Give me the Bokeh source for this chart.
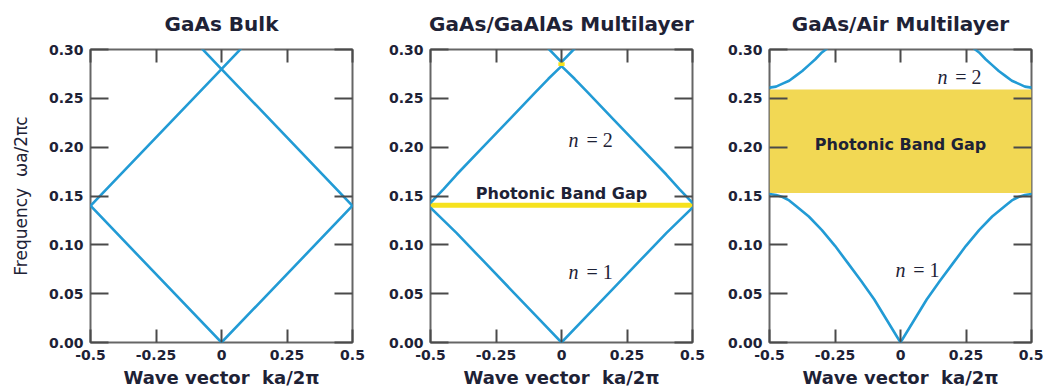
from bokeh.plotting import figure
from bokeh.layouts import row
from bokeh.models import Range1d, FixedTicker, LinearAxis, Label, CustomLabelingPolicy
from bokeh.embed import file_html
from bokeh.resources import INLINE

# ---- axis ticks -------------------------------------------------------------
k_ticks = [-0.5, -0.25, 0.0, 0.25, 0.5]
k_tick_labels = ["-0.5", "-0.25", "0", "0.25", "0.5"]
w_ticks = [0.0, 0.05, 0.10, 0.15, 0.20, 0.25, 0.30]
w_tick_labels = ["0.00", "0.05", "0.10", "0.15", "0.20", "0.25", "0.30"]

# ---- GaAs bulk: folded light line (half zone, k >= 0) ----------------------
bulk_k = [0.0, 0.5]
bulk_band1 = [0.0, 0.14]
bulk_band2 = [0.28, 0.14]
bulk_band3_k = [0.0, 0.1]
bulk_band3 = [0.28, 0.308]

# ---- GaAs/GaAlAs multilayer -------------------------------------------------
ml_band1_k = [0.0, 0.1, 0.2, 0.3, 0.4, 0.45, 0.5]
ml_band1 = [0.0, 0.028, 0.056, 0.084, 0.112, 0.125, 0.138]
ml_band2_k = [0.0, 0.05, 0.1, 0.2, 0.3, 0.4, 0.45, 0.5]
ml_band2 = [0.283, 0.270, 0.256, 0.228, 0.200, 0.172, 0.157, 0.143]
ml_band3_k = [0.0, 0.05, 0.1]
ml_band3 = [0.287, 0.301, 0.315]
ml_gap_bottom = [0.138]
ml_gap_top = [0.143]
ml_gap2_bottom = [0.283]
ml_gap2_top = [0.287]

# ---- GaAs/Air multilayer ----------------------------------------------------
air_band1_k = [0.0, 0.05, 0.1, 0.15, 0.2, 0.25, 0.3, 0.35, 0.4, 0.425, 0.45, 0.475, 0.5]
air_band1 = [0.0, 0.022, 0.044, 0.063, 0.081, 0.099, 0.115, 0.129, 0.140, 0.1455, 0.149, 0.151, 0.152]
air_band2_k = [0.28, 0.3, 0.325, 0.35, 0.375, 0.4, 0.425, 0.45, 0.475, 0.5]
air_band2 = [0.301, 0.297, 0.290, 0.284, 0.278, 0.273, 0.268, 0.265, 0.262, 0.261]
air_gap_bottom = [0.153]
air_gap_top = [0.259]

zone_left = [-0.5]
zone_right = [0.5]

LINE = "#229bd5"
TEXT = "#1e2236"
FRAME = "#666666"
SANS = "DejaVu Sans"
SP = "\u00a0\u00a0"


def make_panel(title, width, left, right, ylabel=None):
    p = figure(width=width, height=391,
               x_range=Range1d(-0.5, 0.5), y_range=Range1d(0.0, 0.30),
               output_backend="svg", toolbar_location=None,
               min_border_left=left, min_border_right=right,
               min_border_top=48, min_border_bottom=49,
               title=title)
    p.title.align = "center"
    p.title.text_font = SANS
    p.title.text_font_size = "20px"
    p.title.text_font_style = "bold"
    p.title.text_color = TEXT
    p.title.standoff = 19
    p.grid.visible = False
    p.outline_line_color = FRAME
    p.outline_line_width = 2
    p.background_fill_color = "white"
    p.border_fill_color = "white"

    xa = p.xaxis[0]
    xa.ticker = FixedTicker(ticks=k_ticks)
    xa.major_label_overrides = dict(zip(k_ticks, k_tick_labels))
    xa.axis_label = "Wave vector" + SP + "ka/2\u03c0"
    xa.axis_label_text_font = SANS
    xa.axis_label_text_font_size = "18px"
    xa.axis_label_text_font_style = "bold"
    xa.axis_label_text_color = TEXT
    xa.axis_label_standoff = 4
    xa.major_label_standoff = 7

    ya = p.yaxis[0]
    ya.ticker = FixedTicker(ticks=w_ticks)
    ya.major_label_overrides = dict(zip(w_ticks, w_tick_labels))
    ya.major_label_standoff = 7
    if ylabel:
        ya.axis_label = ylabel
        ya.axis_label_text_font = SANS
        ya.axis_label_text_font_size = "17px"
        ya.axis_label_text_font_style = "normal"
        ya.axis_label_text_color = TEXT
        ya.axis_label_standoff = 15

    # mirrored tick marks on the top and right edges, without labels
    top = LinearAxis(ticker=FixedTicker(ticks=k_ticks))
    rgt = LinearAxis(ticker=FixedTicker(ticks=w_ticks))
    p.add_layout(top, "above")
    p.add_layout(rgt, "right")
    for ax in (top, rgt):
        ax.major_label_policy = CustomLabelingPolicy(code="for (const i of []) { yield i }")
        ax.major_label_text_font_size = "1px"
        ax.major_label_standoff = 0

    for ax in (xa, top):
        ax.major_tick_in = 13
    for ax in (ya, rgt):
        ax.major_tick_in = 18
    for ax in (xa, ya):
        ax.major_label_text_font = SANS
        ax.major_label_text_font_style = "bold"
        ax.major_label_text_font_size = "14px"
        ax.major_label_text_color = TEXT
    for ax in (xa, ya, top, rgt):
        ax.major_tick_out = 0
        ax.minor_tick_in = 0
        ax.minor_tick_out = 0
        ax.axis_line_color = None
        ax.major_tick_line_color = "#4a4a4a"
        ax.major_tick_line_width = 2
    return p


def band(p, k, w):
    # draw both halves of the zone, k and -k
    p.line(k, w, line_color=LINE, line_width=2.6, line_cap="round", line_join="round")
    p.line([-x for x in k], w, line_color=LINE, line_width=2.6, line_cap="round", line_join="round")


def gap(p, bottom, top, color, left=zone_left, right=zone_right):
    p.quad(left=left, right=right, bottom=bottom, top=top,
           fill_color=color, line_color=None)


def n_label(p, x, y, num):
    p.add_layout(Label(x=x, y=y, text="n", text_font="Liberation Serif",
                       text_font_style="italic", text_font_size="20px",
                       text_color=TEXT, text_baseline="middle", text_align="left"))
    p.add_layout(Label(x=x + 0.068, y=y, text="= " + num, text_font="Liberation Serif",
                       text_font_size="20px", text_color=TEXT,
                       text_baseline="middle", text_align="left"))


def gap_label(p, x, y):
    p.add_layout(Label(x=x, y=y, text="Photonic Band Gap", text_font=SANS,
                       text_font_style="bold", text_font_size="16px",
                       text_color=TEXT, text_baseline="middle", text_align="center"))


# Panel 1: bulk GaAs
p1 = make_panel("GaAs Bulk", 378, 90, 26, ylabel="Frequency" + SP + "\u03c9a/2\u03c0c")
band(p1, bulk_k, bulk_band1)
band(p1, bulk_k, bulk_band2)
band(p1, bulk_band3_k, bulk_band3)

# Panel 2: GaAs/GaAlAs multilayer
p2 = make_panel("GaAs/GaAlAs Multilayer", 340, 52, 26)
gap(p2, ml_gap_bottom, ml_gap_top, "#f6e21e")
band(p2, ml_band1_k, ml_band1)
band(p2, ml_band2_k, ml_band2)
band(p2, ml_band3_k, ml_band3)
gap(p2, ml_gap2_bottom, ml_gap2_top, "#f6e21e", left=[-0.012], right=[0.012])
n_label(p2, 0.027, 0.207, "2")
n_label(p2, 0.027, 0.072, "1")
gap_label(p2, 0.0, 0.153)

# Panel 3: GaAs/Air multilayer
p3 = make_panel("GaAs/Air Multilayer", 325, 51, 12)
gap(p3, air_gap_bottom, air_gap_top, "#f2d854")
band(p3, air_band1_k, air_band1)
band(p3, air_band2_k, air_band2)
n_label(p3, 0.141, 0.272, "2")
n_label(p3, -0.019, 0.074, "1")
gap_label(p3, 0.0, 0.203)

layout = row(p1, p2, p3)
open("out.html", "w").write(file_html(layout, INLINE))
